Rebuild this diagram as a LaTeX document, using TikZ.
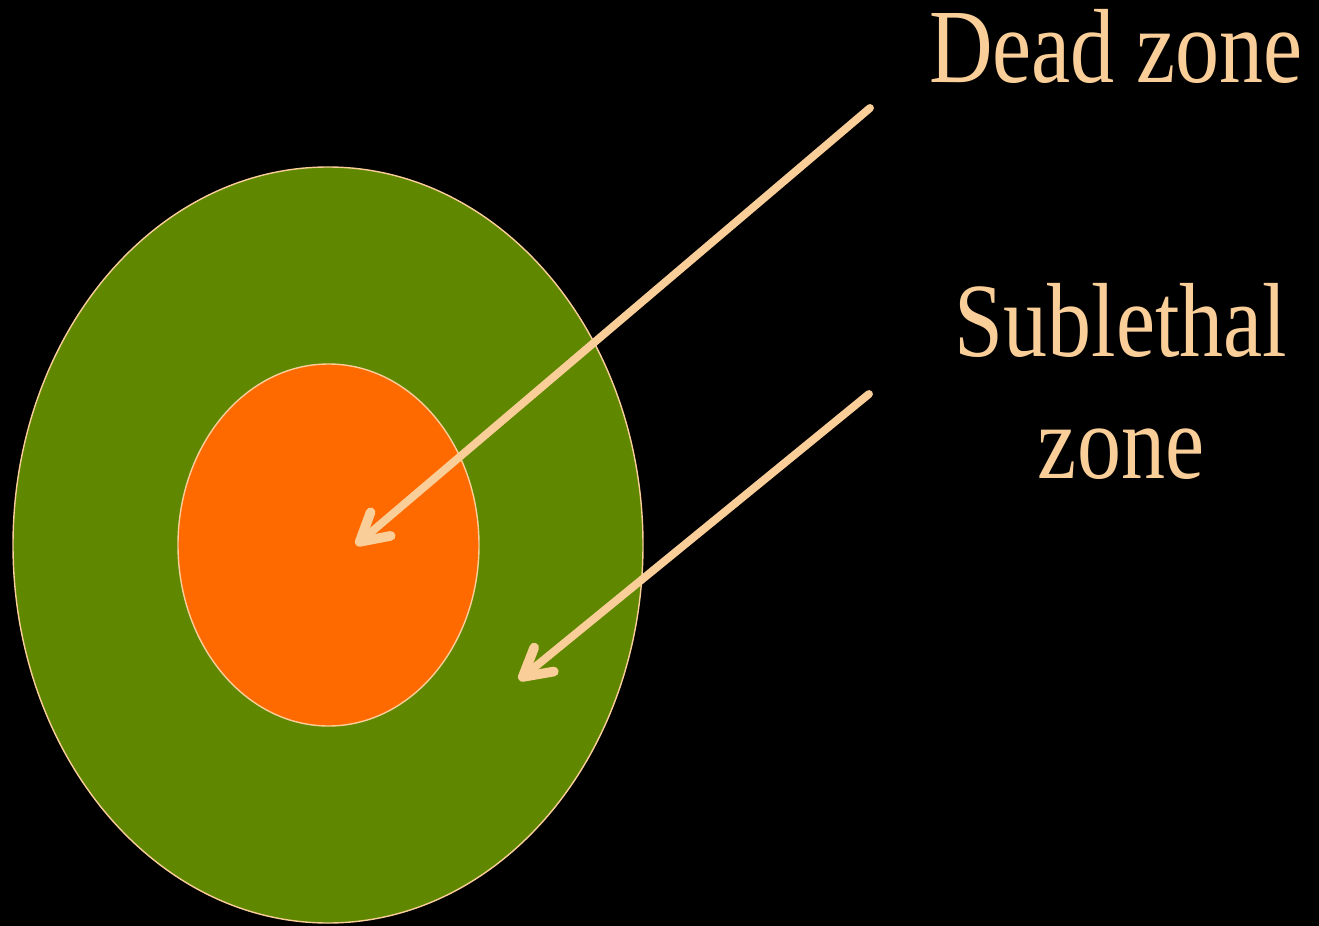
\documentclass[tikz,border=0pt]{standalone}
\usepackage{fontspec}
\setmainfont{Liberation Serif}
\usetikzlibrary{positioning, arrows.meta}

\definecolor{peach}{RGB}{250,206,152}
\definecolor{zonegreen}{RGB}{95,135,0}
\definecolor{zoneorange}{RGB}{255,106,0}

\begin{document}
\begin{tikzpicture}[x=0.02cm, y=-0.02cm,
    zonetext/.style={text=peach, font=\fontsize{60}{69}\selectfont, xscale=0.835, inner sep=0pt, align=center},
    pointer/.style={draw=peach, line width=4.5pt, line cap=round,
        -{Straight Barb[length=0.55cm, width=0.62cm, line width=5.5pt, round]}}]

    \fill[black] (0,0) rectangle (1319,926);
    \useasboundingbox (0,0) rectangle (1319,926);

    % zones
    \draw[fill=zonegreen, draw=peach, line width=0.8pt] (328,545) ellipse [x radius=315, y radius=378];
    \draw[fill=zoneorange, draw=peach, line width=0.8pt] (328.5,545) ellipse [x radius=150.5, y radius=181];

    \node[zonetext, anchor=base] (dead) at (1116,83) {Dead zone};
    \node[zonetext, anchor=base] (sublethal) at (1121,478) {Sublethal\\zone};

    \coordinate (deadstart) at (870,108);
    \coordinate (deadtip) at (356,545);
    \coordinate (substart) at (869,394);
    \coordinate (subtip) at (519,680);

    \draw[pointer] (deadstart) -- (deadtip);
    \draw[pointer] (substart) -- (subtip);

\end{tikzpicture}
\end{document}
